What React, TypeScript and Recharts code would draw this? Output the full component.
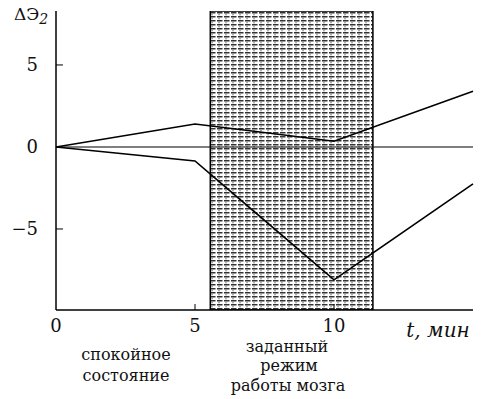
import {
  LineChart,
  Line,
  XAxis,
  YAxis,
  ReferenceArea,
  ReferenceLine,
} from "recharts";

// time, minutes
const times = [0, 5, 10, 15];
// upper and lower response curves
const upperCurve = [0, 1.4, 0.35, 3.4];
const lowerCurve = [0, -0.85, -8.1, -2.25];

const xTicks = [0, 5, 10];
const yTicks = [-5, 0, 5];

// the "task mode" interval
const modeStart = 5.55;
const modeEnd = 11.4;

const data = times.map((t, i) => ({
  t,
  upper: upperCurve[i],
  lower: lowerCurve[i],
}));

const serif = "'DejaVu Serif', 'Liberation Serif', serif";

const XTick = (props: any) => {
  const { x, y, payload } = props;
  return (
    <g>
      {payload.value !== 0 && (
        <line x1={x} x2={x} y1={310} y2={304} stroke="#000" strokeWidth={1} />
      )}
      <text
        x={x}
        y={y + 14}
        textAnchor="middle"
        style={{ fontFamily: serif, fontSize: 18 }}
        fill="#111"
      >
        {payload.value}
      </text>
    </g>
  );
};

const YTick = (props: any) => {
  const { x, y, payload } = props;
  const label = payload.value < 0 ? `\u2212${Math.abs(payload.value)}` : `${payload.value}`;
  return (
    <g>
      {payload.value !== 0 && (
        <line x1={56} x2={63} y1={y} y2={y} stroke="#000" strokeWidth={1} />
      )}
      <text
        x={x - 10}
        y={y + 6}
        textAnchor="end"
        style={{ fontFamily: serif, fontSize: 18 }}
        fill="#111"
      >
        {label}
      </text>
    </g>
  );
};

const caption = (text: string, cx: number, cy: number, italic = false) => (
  <div
    style={{
      position: "absolute",
      left: cx - 100,
      top: cy - 11,
      width: 200,
      textAlign: "center",
      fontFamily: serif,
      fontSize: italic ? 20 : 16,
      fontStyle: italic ? "italic" : "normal",
      lineHeight: "22px",
      color: "#111",
      whiteSpace: "nowrap",
    }}
  >
    {text}
  </div>
);

export default function App() {
  return (
    <div
      style={{
        position: "absolute",
        left: 0,
        top: 0,
        width: 481,
        height: 399,
        background: "#fff",
        fontFamily: serif,
      }}
    >
      <LineChart
        width={481}
        height={399}
        data={data}
        margin={{ top: 11, right: 8, left: 0, bottom: 0 }}
      >
        <defs>
          <pattern id="modeHatch" width="7" height="4" patternUnits="userSpaceOnUse">
            <rect width="7" height="4" fill="#fff" />
            <rect x="0" y="0" width="5.5" height="1.5" fill="#333" />
            <rect x="1" y="2.4" width="2" height="0.8" fill="#777" />
          </pattern>
        </defs>
        <XAxis
          dataKey="t"
          type="number"
          domain={[0, 15]}
          ticks={xTicks}
          tick={<XTick />}
          tickLine={false}
          axisLine={{ stroke: "#000", strokeWidth: 1.5 }}
          height={89}
        />
        <XAxis
          xAxisId="top"
          orientation="top"
          dataKey="t"
          type="number"
          domain={[0, 15]}
          tick={false}
          tickLine={false}
          axisLine={{ stroke: "#000", strokeWidth: 1.5 }}
          height={0}
        />
        <YAxis
          type="number"
          domain={[-9.94, 8.29]}
          ticks={yTicks}
          allowDataOverflow
          tick={<YTick />}
          tickLine={false}
          axisLine={{ stroke: "#000", strokeWidth: 1.5 }}
          width={56}
        />
        <YAxis
          yAxisId="right"
          orientation="right"
          domain={[-9.94, 8.29]}
          tick={false}
          tickLine={false}
          axisLine={{ stroke: "#000", strokeWidth: 1.5 }}
          width={0}
        />
        <ReferenceArea
          x1={modeStart}
          x2={modeEnd}
          y1={-9.94}
          y2={8.29}
          fill="url(#modeHatch)"
          fillOpacity={1}
          stroke="#000"
          strokeWidth={1.5}
          ifOverflow="hidden"
        />
        <ReferenceLine y={0} stroke="#000" strokeWidth={1.1} />
        <Line
          dataKey="upper"
          type="linear"
          stroke="#000"
          strokeWidth={1.6}
          dot={false}
          isAnimationActive={false}
        />
        <Line
          dataKey="lower"
          type="linear"
          stroke="#000"
          strokeWidth={1.6}
          dot={false}
          isAnimationActive={false}
        />
      </LineChart>
      <div
        style={{
          position: "absolute",
          left: 14,
          top: 4,
          fontFamily: serif,
          fontSize: 17,
          color: "#111",
        }}
      >
        ΔЭ<sub style={{ fontStyle: "italic", fontSize: 14 }}>2</sub>
      </div>
      {caption("t, мин", 438, 330, true)}
      {caption("спокойное", 126, 355)}
      {caption("состояние", 126, 376)}
      {caption("заданный", 287, 347)}
      {caption("режим", 289, 366)}
      {caption("работы мозга", 288, 386)}
    </div>
  );
}
